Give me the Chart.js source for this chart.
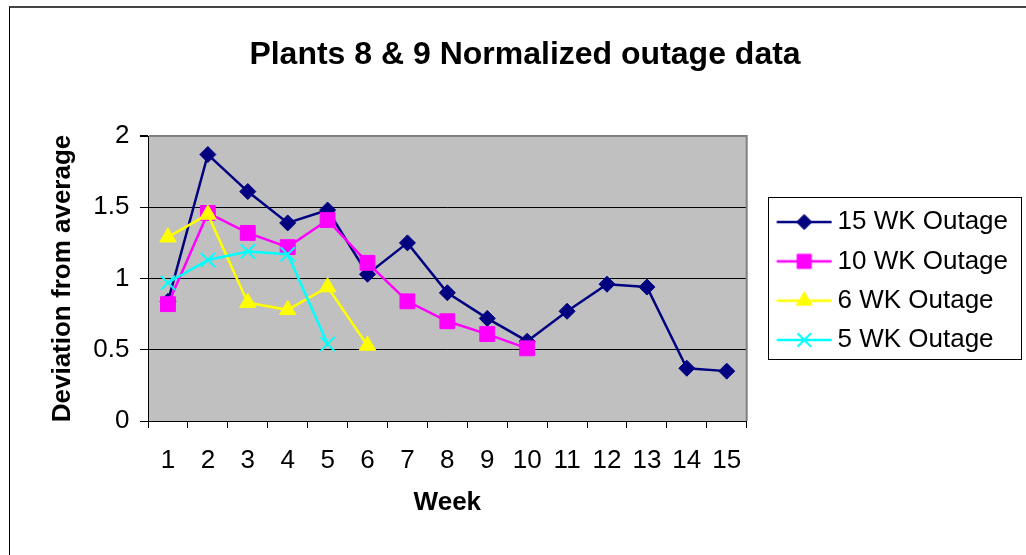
<!DOCTYPE html>
<html><head><meta charset="utf-8">
<script src="https://cdn.jsdelivr.net/npm/chart.js@4.4.1/dist/chart.umd.min.js"></script>
<style>
html,body{margin:0;padding:0;background:#fff;}
#wrap{position:relative;width:1026px;height:555px;overflow:hidden;}
#frame{position:absolute;left:9px;top:6px;width:1100px;height:600px;border-left:1px solid #000;border-top:2px solid #444;}
canvas{position:absolute;left:0;top:0;}
</style></head><body>
<div id="wrap"><div id="frame"></div><canvas id="c" width="1026" height="555"></canvas></div>
<script>
const chartTitle = 'Plants 8 & 9 Normalized outage data';
const xTitle = 'Week';
const yTitle = 'Deviation from average';
const weeks = ['1','2','3','4','5','6','7','8','9','10','11','12','13','14','15'];
const seriesNames = ['15 WK Outage','10 WK Outage','6 WK Outage','5 WK Outage'];
const wk15 = [0.84, 1.87, 1.61, 1.39, 1.48, 1.03, 1.25, 0.90, 0.72, 0.56, 0.77, 0.96, 0.94, 0.37, 0.35];
const wk10 = [0.82, 1.46, 1.32, 1.22, 1.41, 1.11, 0.84, 0.70, 0.61, 0.51];
const wk6  = [1.29, 1.45, 0.83, 0.78, 0.94, 0.53];
const wk5  = [0.97, 1.13, 1.19, 1.17, 0.54];
const yTickValues = [0, 0.5, 1, 1.5, 2];
const yTickLabels = ['0', '0.5', '1', '1.5', '2'];

const FONT = "'Liberation Sans', Arial, sans-serif";
const LEG_FONT = 26, LEG_PAD = 13.3;
const PLOT_RIGHT = 746.7;

const styles = [
  {color:'#000080', pointStyle:'rectRot', radius:8, bw:1},
  {color:'#FF00FF', pointStyle:'rect', radius:10.5, bw:1},
  {color:'#FFFF00', pointStyle:'triangle', radius:9.5, bw:1},
  {color:'#00FFFF', pointStyle:'crossRot', radius:10, bw:2}
];

function legendImg(s) {
  const c = document.createElement('canvas');
  c.width = 63; c.height = 24;
  const g = c.getContext('2d');
  g.strokeStyle = s.color; g.fillStyle = s.color; g.lineWidth = 2.5;
  g.beginPath(); g.moveTo(7.5, 12); g.lineTo(62.5, 12); g.stroke();
  g.lineWidth = s.bw;
  Chart.helpers.drawPoint(g, {pointStyle: s.pointStyle, radius: s.radius * 0.95, rotation: 0, borderWidth: s.bw}, 35, 12);
  return c;
}

Chart.defaults.color = '#000';
Chart.defaults.font.family = FONT;

const data = [wk15, wk10, wk6, wk5];
const datasets = data.map((d, i) => ({
  label: seriesNames[i],
  data: d,
  borderColor: styles[i].color,
  backgroundColor: styles[i].color,
  pointBackgroundColor: styles[i].color,
  pointBorderColor: styles[i].color,
  pointStyle: styles[i].pointStyle,
  pointRadius: styles[i].radius,
  pointHoverRadius: styles[i].radius,
  pointBorderWidth: styles[i].bw,
  borderWidth: 2.5,
  tension: 0,
  fill: false,
  order: 4 - i
}));

const plotPlugin = {
  id: 'plotbg',
  afterInit(chart) {
    const lg = chart.legend;
    const f = lg.fit;
    lg.fit = function() { f.call(this); this.width = 1026 - PLOT_RIGHT; };
  },
  afterLayout(chart) {
    const lg = chart.legend;
    const shift = 777 - PLOT_RIGHT - LEG_PAD;
    lg.left += shift;
    lg.top += 7;
  },
  beforeDraw(chart) {
    const {ctx, chartArea: a} = chart;
    ctx.save();
    ctx.fillStyle = '#C0C0C0';
    ctx.fillRect(a.left, a.top, a.right - a.left, a.bottom - a.top);
    ctx.restore();
  },
  beforeDatasetsDraw(chart) {
    const {ctx, chartArea: a} = chart;
    ctx.save();
    ctx.strokeStyle = '#808080';
    ctx.lineWidth = 2;
    ctx.beginPath();
    ctx.moveTo(a.right, a.top - 1);
    ctx.lineTo(a.right, a.bottom);
    ctx.stroke();
    ctx.restore();
  },
  afterDraw(chart) {
    const {ctx} = chart;
    const lg = chart.legend;
    const n = seriesNames.length;
    const itemsLeft = lg.left + LEG_PAD;
    const start = lg.top + LEG_PAD;
    const end = lg.bottom - n * (LEG_FONT + LEG_PAD);
    const y0 = (start + end) / 2;
    const firstC = y0 + LEG_FONT / 2;
    const lastC = firstC + (n - 1) * (LEG_FONT + LEG_PAD);
    ctx.save();
    ctx.strokeStyle = '#000';
    ctx.lineWidth = 1;
    ctx.strokeRect(Math.round(itemsLeft - 9) + 0.5, Math.round(firstC - 25) + 0.5, 253, Math.round(lastC + 19 - (firstC - 25)));
    ctx.restore();
  }
};

new Chart(document.getElementById('c'), {
  type: 'line',
  data: { labels: weeks, datasets },
  options: {
    responsive: false,
    animation: false,
    devicePixelRatio: 1,
    layout: { padding: { left: 24, top: 0, right: 0, bottom: 0 } },
    plugins: {
      tooltip: { enabled: false },
      title: {
        display: true,
        text: chartTitle,
        color: '#000',
        font: { family: FONT, size: 32, weight: 'bold' },
        padding: { top: 35.8, bottom: 61.8 }
      },
      legend: {
        position: 'right',
        align: 'center',
        labels: {
          usePointStyle: true,
          pointStyleWidth: 47.5,
          padding: LEG_PAD,
          color: '#000',
          font: { family: FONT, size: LEG_FONT },
          sort: (a, b) => a.datasetIndex - b.datasetIndex,
          generateLabels(chart) {
            const items = Chart.defaults.plugins.legend.labels.generateLabels(chart);
            items.forEach(it => { it.pointStyle = legendImg(styles[it.datasetIndex]); });
            return items;
          }
        }
      }
    },
    scales: {
      x: {
        type: 'category',
        offset: true,
        afterFit(s) { s.height = 555 - 421; },
        grid: { offset: true, drawOnChartArea: false, drawTicks: true, tickLength: 7, color: '#000', tickColor: '#000' },
        border: { color: '#000', width: 1 },
        ticks: { color: '#000', padding: 17.4, font: { family: FONT, size: 26 }, maxRotation: 0, autoSkip: false },
        title: { display: true, text: xTitle, color: '#000', font: { family: FONT, size: 26, weight: 'bold' }, padding: { top: 0, bottom: 36.4 } }
      },
      y: {
        min: 0, max: 2,
        afterFit(s) { s.width = 148 - 24; },
        afterBuildTicks(s) { s.ticks = yTickValues.map(v => ({ value: v })); },
        grid: {
          color: c => (c.tick && c.tick.value === 2) ? '#808080' : '#000',
          lineWidth: c => (c.tick && c.tick.value === 2) ? 2 : 1,
          tickColor: '#000', tickLength: 8, drawTicks: true
        },
        border: { color: '#000', width: 1 },
        ticks: {
          color: '#000', padding: 10.5, font: { family: FONT, size: 26 },
          callback: v => yTickLabels[yTickValues.indexOf(v)]
        },
        title: { display: true, text: yTitle, color: '#000', font: { family: FONT, size: 26, weight: 'bold' }, padding: { top: 23.4, bottom: 0 } }
      }
    }
  },
  plugins: [plotPlugin]
});
</script>
</body></html>
